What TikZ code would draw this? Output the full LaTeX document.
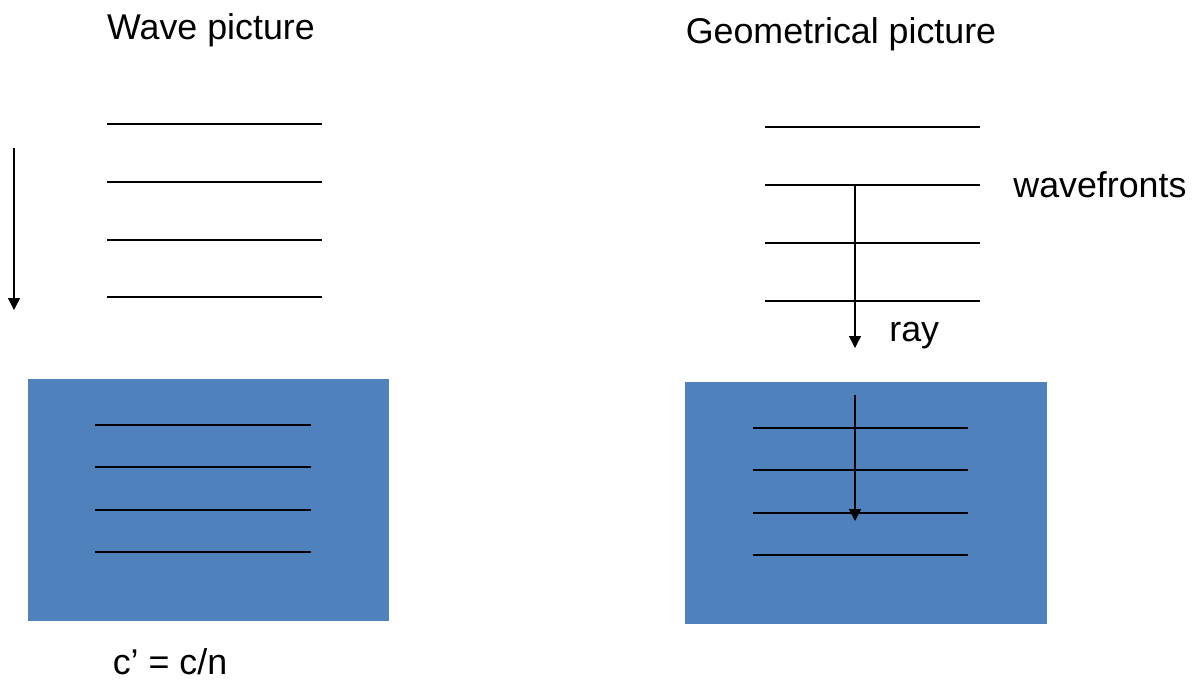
\documentclass[tikz,border=0pt]{standalone}
\usepackage{fontspec}
\setmainfont{Liberation Sans}
\usetikzlibrary{arrows.meta}
\definecolor{water}{HTML}{4F81BD}
\begin{document}
\begin{tikzpicture}[x=0.5pt,y=-0.5pt,
  front/.style={draw=black,line width=0.65pt},
  ray/.style={draw=black,line width=0.65pt,-{Triangle[length=6pt,width=6pt]}},
  lbl/.style={font=\fontsize{17.9}{21}\selectfont,inner sep=0pt},
  medium/.style={fill=water,draw=none}]
\useasboundingbox (0,0) rectangle (1195,682);
% titles
\node[lbl] (t1) at (211,30) {Wave picture};
\node[lbl] (t2) at (841,34) {Geometrical picture};
% left wavefronts
\foreach \y [count=\i] in {124,182,240,297} {
  \coordinate (la\i) at (107,\y); \coordinate (lb\i) at (322,\y);
  \draw[front] (la\i) -- (lb\i);
}
\coordinate (ls) at (14,148); \coordinate (le) at (14,310);
\draw[ray] (ls) -- (le);
% left medium
\node[medium,minimum width=180.5pt,minimum height=121pt,inner sep=0pt] (m1) at (208.5,500) {};
\foreach \y [count=\i] in {425,467,510,552} {
  \coordinate (lc\i) at (95,\y); \coordinate (ld\i) at (311,\y);
  \draw[front] (lc\i) -- (ld\i);
}
\node[lbl] (speed) at (170,662) {c’ = c/n};
% right wavefronts
\foreach \y [count=\i] in {127,185,243,301} {
  \coordinate (ra\i) at (765,\y); \coordinate (rb\i) at (980,\y);
  \draw[front] (ra\i) -- (rb\i);
}
\node[lbl,anchor=west] (wf) at (1013,185) {wavefronts};
\coordinate (rs) at (855,185); \coordinate (re) at (855,348);
\draw[ray] (rs) -- (re);
\node[lbl,anchor=west] (raylbl) at (889,336) {ray};
% right medium
\node[medium,minimum width=181pt,minimum height=121pt,inner sep=0pt] (m2) at (866,503) {};
\foreach \y [count=\i] in {428,470,513,555} {
  \coordinate (rc\i) at (753,\y); \coordinate (rd\i) at (968,\y);
  \draw[front] (rc\i) -- (rd\i);
}
\coordinate (rs2) at (855,395); \coordinate (re2) at (855,521);
\draw[ray] (rs2) -- (re2);
\end{tikzpicture}
\end{document}
